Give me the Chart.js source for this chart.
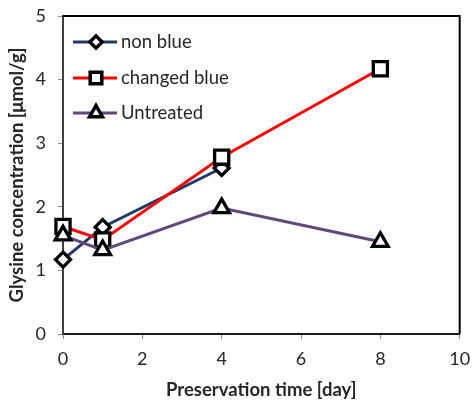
<!DOCTYPE html>
<html>
<head>
<meta charset="utf-8">
<script src="https://cdn.jsdelivr.net/npm/chart.js@4/dist/chart.umd.min.js"></script>
<style>
  html, body { margin: 0; padding: 0; background: #ffffff; }
  #wrap { width: 473px; height: 402px; position: relative; }
</style>
</head>
<body>
<div id="wrap"><canvas id="c"></canvas></div>
<script>
// Preservation days and glycine concentrations (µmol/g)
const daysNonBlue = [0, 1, 4];
const nonBlue = [1.17, 1.68, 2.61];
const daysChanged = [0, 1, 4, 8];
const changedBlue = [1.69, 1.48, 2.78, 4.17];
const daysUntreated = [0, 1, 4, 8];
const untreated = [1.55, 1.32, 1.98, 1.45];

const seriesNames = ['non blue', 'changed blue', 'Untreated'];
const xTicks = [0, 2, 4, 6, 8, 10];
const yTicks = [0, 1, 2, 3, 4, 5];

const FONT = 'Lato, "Liberation Sans", sans-serif';
const TEXT = '#262626';

function pts(xs, ys) { return xs.map((x, i) => ({ x: x, y: ys[i] })); }

// Legend drawn inside the plot area: line sample with marker, then name
const insideLegend = {
  id: 'insideLegend',
  afterDatasetsDraw(chart) {
    const ctx = chart.ctx;
    const x0 = 73, x1 = 117, tx = 121;
    const rows = [42, 78, 113];
    chart.data.datasets.forEach((ds, i) => {
      const y = rows[i];
      ctx.save();
      ctx.strokeStyle = ds.borderColor;
      ctx.lineWidth = ds.borderWidth;
      ctx.beginPath();
      ctx.moveTo(x0, y);
      ctx.lineTo(x1, y);
      ctx.stroke();
      ctx.fillStyle = ds.pointBackgroundColor;
      ctx.strokeStyle = ds.pointBorderColor;
      ctx.lineWidth = 3.5;
      Chart.helpers.drawPoint(ctx, { pointStyle: ds.pointStyle, radius: ds.pointRadius * 0.82, borderWidth: 3.5, rotation: 0 }, 96, y);
      ctx.fillStyle = TEXT;
      ctx.font = '18.5px ' + FONT;
      ctx.textBaseline = 'middle';
      ctx.textAlign = 'left';
      ctx.fillText(ds.label, tx, y);
      ctx.restore();
    });
  }
};

// Black frame on the top and right sides of the plot area
const frame = {
  id: 'frame',
  beforeDatasetsDraw(chart) {
    const { ctx, chartArea: a } = chart;
    ctx.save();
    ctx.strokeStyle = '#000000';
    ctx.lineWidth = 2;
    ctx.beginPath();
    ctx.moveTo(a.left, a.top);
    ctx.lineTo(a.right, a.top);
    ctx.lineTo(a.right, a.bottom);
    ctx.stroke();
    ctx.restore();
  }
};

const common = {
  showLine: true,
  borderWidth: 3,
  pointBackgroundColor: '#ffffff',
  pointBorderColor: '#000000',
  pointBorderWidth: 3.3,
  pointHoverRadius: 0,
  clip: false,
  tension: 0
};

new Chart(document.getElementById('c'), {
  type: 'scatter',
  data: {
    datasets: [
      Object.assign({}, common, {
        label: seriesNames[0],
        data: pts(daysNonBlue, nonBlue),
        borderColor: '#1f3864',
        pointStyle: 'rectRot',
        pointRadius: 7.5,
        order: 3
      }),
      Object.assign({}, common, {
        label: seriesNames[1],
        data: pts(daysChanged, changedBlue),
        borderColor: '#ff0000',
        pointStyle: 'rect',
        pointRadius: 10,
        order: 2
      }),
      Object.assign({}, common, {
        label: seriesNames[2],
        data: pts(daysUntreated, untreated),
        borderColor: '#5f497a',
        pointStyle: 'triangle',
        pointRadius: 9,
        order: 1
      })
    ]
  },
  options: {
    responsive: true,
    maintainAspectRatio: false,
    animation: false,
    events: [],
    layout: { padding: { top: 16, right: 12, left: 0, bottom: 0 } },
    plugins: {
      legend: { display: false },
      tooltip: { enabled: false }
    },
    scales: {
      x: {
        type: 'linear',
        min: 0,
        max: 10,
        afterBuildTicks(scale) { scale.ticks = xTicks.map(v => ({ value: v })); },
        afterFit(scale) {
          scale.height = 68;
          scale.paddingLeft = 0;
          scale.paddingRight = 0;
        },
        border: { display: true, color: '#1a1a1a', width: 2 },
        grid: { drawOnChartArea: false, drawTicks: true, tickLength: 5, color: '#8c8c8c', lineWidth: 1 },
        ticks: { color: TEXT, font: { family: FONT, size: 18 }, padding: 9, maxRotation: 0 },
        title: {
          display: true,
          text: 'Preservation time [day]',
          color: TEXT,
          font: { family: FONT, size: 18.5, weight: 'bold' },
          padding: { top: 1, bottom: 1 }
        }
      },
      y: {
        type: 'linear',
        min: 0,
        max: 5,
        afterBuildTicks(scale) { scale.ticks = yTicks.map(v => ({ value: v })); },
        afterFit(scale) {
          scale.width = 63;
          scale.paddingTop = 0;
          scale.paddingBottom = 0;
        },
        border: { display: true, color: '#404040', width: 2 },
        grid: { drawOnChartArea: false, drawTicks: true, tickLength: 5, color: '#8c8c8c', lineWidth: 1 },
        ticks: { color: TEXT, font: { family: FONT, size: 18 }, padding: 12 },
        title: {
          display: true,
          text: 'Glysine concentration [μmol/g]',
          color: TEXT,
          font: { family: FONT, size: 18.5, weight: 'bold' },
          padding: { top: 6, bottom: 2 }
        }
      }
    }
  },
  plugins: [frame, insideLegend]
});
</script>
</body>
</html>
